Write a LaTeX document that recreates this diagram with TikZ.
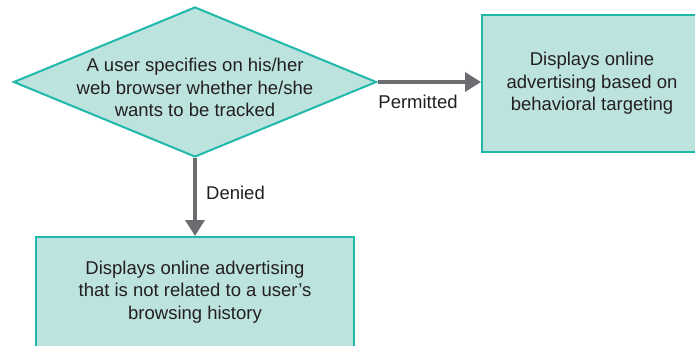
\documentclass[tikz,border=0pt]{standalone}
\usepackage{fontspec}
\setmainfont{Liberation Sans}
\usetikzlibrary{shapes.geometric,arrows.meta}
\definecolor{tealline}{HTML}{1FB8AA}
\definecolor{tealfill}{HTML}{BDE3DF}
\definecolor{flowgray}{HTML}{6B6C6F}
\definecolor{textgray}{HTML}{231F20}
\tikzset{
  x=1pt, y=-1pt,
  box/.style={draw=tealline, fill=tealfill, line width=2pt, inner sep=0pt, align=center,
    text=textgray, font=\fontsize{18.5}{22.5}\selectfont},
  decision/.style={draw=tealline, fill=tealfill, line width=2pt, shape=diamond, inner sep=0pt},
  bodytext/.style={align=center, text=textgray, font=\fontsize{18.5}{22.5}\selectfont, inner sep=0pt},
  flow/.style={draw=flowgray, line width=3.5pt, -{Triangle[length=16pt,width=19pt]}},
  flowlabel/.style={text=textgray, font=\fontsize{18.5}{21}\selectfont, inner sep=0pt}
}
\begin{document}
\begin{tikzpicture}
\useasboundingbox (0,0) rectangle (695,345);
% decision
\node[decision, minimum width=363pt, minimum height=150pt] (q) at (195,82) {};
\node[bodytext] (qtext) at (195,87.5) {A user specifies on his/her\\web browser whether he/she\\wants to be tracked};
% outcomes
\node[box, minimum width=220pt, minimum height=137pt] (r) at (592,83.5)
  {Displays online\\advertising based on\\behavioral targeting};
\node[box, minimum width=318pt, minimum height=110pt] (d) at (195,292)
  {Displays online advertising\\that is not related to a user’s\\browsing history};
% connectors
\draw[flow] (q.east) -- (q.east -| r.west);
\draw[flow] (q.south) -- (d.north);
\node[flowlabel] (lp) at (418,102) {Permitted};
\node[flowlabel, anchor=west] (ld) at (206,193) {Denied};
\end{tikzpicture}
\end{document}
